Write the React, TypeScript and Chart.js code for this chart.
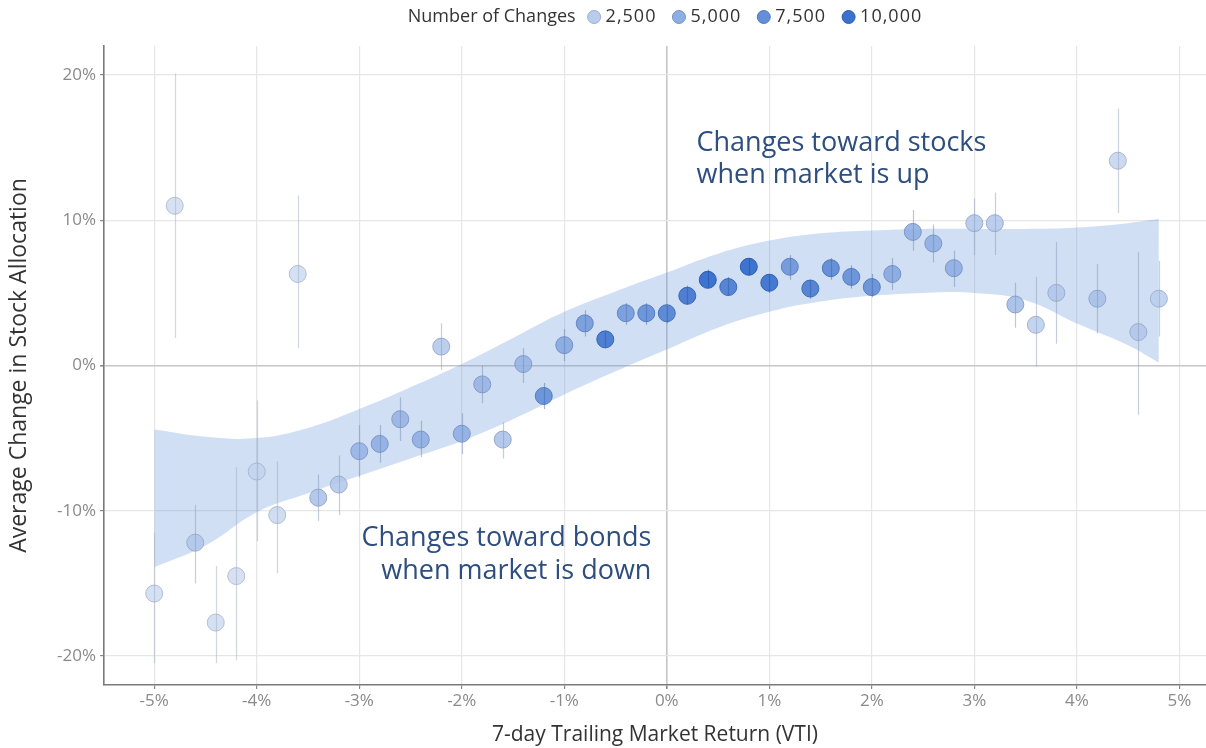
import React, { useEffect, useRef } from "react";
import { Chart, registerables } from "chart.js";

Chart.register(...registerables);

// ---------- data ----------
const returns = [
  -5.0, -4.8, -4.6, -4.4, -4.2, -4.0, -3.8, -3.6, -3.4, -3.2, -3.0, -2.8, -2.6, -2.4, -2.2, -2.0,
  -1.8, -1.6, -1.4, -1.2, -1.0, -0.8, -0.6, -0.4, -0.2, 0.0, 0.2, 0.4, 0.6, 0.8, 1.0, 1.2, 1.4,
  1.6, 1.8, 2.0, 2.2, 2.4, 2.6, 2.8, 3.0, 3.2, 3.4, 3.6, 3.8, 4.2, 4.4, 4.6, 4.8,
];
const avgChange = [
  -15.7, 11.0, -12.2, -17.7, -14.5, -7.3, -10.3, 6.3, -9.1, -8.2, -5.9, -5.4, -3.7, -5.1, 1.3, -4.7,
  -1.3, -5.1, 0.1, -2.1, 1.4, 2.9, 1.8, 3.6, 3.6, 3.6, 4.8, 5.9, 5.4, 6.8, 5.7, 6.8, 5.3,
  6.7, 6.1, 5.4, 6.3, 9.2, 8.4, 6.7, 9.8, 9.8, 4.2, 2.8, 5.0, 4.6, 14.1, 2.3, 4.6,
];
const errLow = [
  -20.5, 1.9, -15.0, -20.5, -20.3, -12.1, -14.3, 1.2, -10.7, -10.3, -7.7, -6.7, -5.2, -6.3, -0.3, -6.1,
  -2.6, -6.4, -1.2, -3.0, 0.3, 2.0, 1.2, 2.8, 2.8, 2.9, 4.2, 5.4, 4.8, 6.2, 5.0, 5.9, 4.6,
  5.9, 5.3, 4.7, 5.2, 7.9, 7.1, 5.4, 7.6, 7.6, 2.6, -0.1, 1.5, 2.2, 10.5, -3.4, 2.0,
];
const errHigh = [
  -11.5, 20.1, -9.6, -13.8, -7.0, -2.4, -6.6, 11.7, -7.5, -6.2, -4.1, -4.1, -2.2, -3.8, 2.9, -3.3,
  0.0, -3.9, 1.2, -1.2, 2.5, 3.8, 2.3, 4.3, 4.3, 4.1, 5.5, 6.6, 6.1, 7.4, 6.3, 7.6, 5.9,
  7.4, 6.9, 6.3, 7.4, 10.7, 9.7, 7.9, 11.5, 11.9, 5.7, 6.1, 8.5, 7.0, 17.7, 7.8, 7.2,
];
const changeCounts = [
  1000, 800, 2500, 900, 800, 1500, 1200, 1000, 3000, 2500, 4000, 4500, 4000, 4500, 2500, 4500,
  4000, 3000, 4000, 7000, 5000, 6000, 9000, 6000, 7000, 8000, 9000, 10000, 8500, 10000, 9500, 6500, 8500,
  7500, 7000, 7000, 5000, 4500, 4500, 4500, 2500, 2500, 3500, 2000, 2500, 3000, 1500, 2500, 2000,
];

const bandX = [-5.0, -4.5, -4.0, -3.5, -3.0, -2.5, -2.0, -1.5, -1.0, -0.5, 0.0, 0.5, 1.0, 1.5, 2.0, 2.5, 3.0, 3.5, 4.0, 4.5, 4.8];
const bandUpper = [-4.4, -4.9, -5.0, -4.3, -3.0, -1.5, 0.1, 1.9, 3.7, 5.1, 6.4, 7.7, 8.6, 9.1, 9.3, 9.4, 9.4, 9.4, 9.5, 9.8, 10.1];
const bandLower = [-13.9, -12.4, -10.1, -8.8, -7.6, -6.4, -5.2, -3.7, -2.0, -0.4, 1.1, 2.6, 3.7, 4.4, 4.8, 5.0, 5.0, 4.5, 2.9, 1.4, 0.2];

const xTicks = [-5, -4, -3, -2, -1, 0, 1, 2, 3, 4, 5];
const yTicks = [-20, -10, 0, 10, 20];

const legendTitle = "Number of Changes";
const legendCounts = [2500, 5000, 7500, 10000];
const legendLabels = ["2,500", "5,000", "7,500", "10,000"];

const annotTexts = ["Changes toward stocks", "when market is up", "Changes toward bonds", "when market is down"];
const annotX = [0.29, 0.29, -0.15, -0.15];
const annotY = [15.3, 13.1, -11.9, -14.2];
const annotAlign = ["left", "left", "right", "right"];

const xTitle = "7-day Trailing Market Return (VTI)";
const yTitle = "Average Change in Stock Allocation";

// ---------- styling helpers ----------
const LOW_C = [222, 231, 246];
const HIGH_C = [37, 98, 201];
const FONT = '"Open Sans", "DejaVu Sans", sans-serif';

function rgbFor(n: number) {
  const t = Math.max(0, Math.min(1, n / 10000));
  return LOW_C.map((c, i) => Math.round(c + (HIGH_C[i] - c) * t));
}
function rgba(c: number[], a: number, k = 1) {
  return `rgba(${Math.round(c[0] * k)},${Math.round(c[1] * k)},${Math.round(c[2] * k)},${a})`;
}

const errorBarPlugin = {
  id: "errorBars",
  afterDatasetsDraw(chart: any) {
    const { ctx, chartArea, scales } = chart;
    const xs = scales.x;
    const ys = scales.y;
    ctx.save();
    ctx.beginPath();
    ctx.rect(chartArea.left, chartArea.top, chartArea.right - chartArea.left, chartArea.bottom - chartArea.top);
    ctx.clip();
    returns.forEach((r, i) => {
      const px = Math.round(xs.getPixelForValue(r)) + 0.5;
      const c = rgbFor(changeCounts[i]);
      ctx.strokeStyle = rgba(c, 0.5, 0.8);
      ctx.lineWidth = 1.2;
      ctx.beginPath();
      ctx.moveTo(px, ys.getPixelForValue(errLow[i]));
      ctx.lineTo(px, ys.getPixelForValue(errHigh[i]));
      ctx.stroke();
    });
    ctx.restore();
  },
};

const textPlugin = {
  id: "annotTexts",
  afterDraw(chart: any) {
    const { ctx, chartArea, scales } = chart;
    ctx.save();
    // annotations
    ctx.font = `27px ${FONT}`;
    ctx.fillStyle = "#2d4e7e";
    ctx.textBaseline = "middle";
    annotTexts.forEach((t, i) => {
      ctx.textAlign = annotAlign[i] as CanvasTextAlign;
      ctx.fillText(t, scales.x.getPixelForValue(annotX[i]), scales.y.getPixelForValue(annotY[i]));
    });
    // legend
    ctx.font = `18px ${FONT}`;
    ctx.textAlign = "left";
    const r = 6.5;
    const spacing = "1px";
    const titleW = ctx.measureText(legendTitle).width;
    (ctx as any).letterSpacing = spacing;
    const widths = legendLabels.map((l) => ctx.measureText(l).width);
    (ctx as any).letterSpacing = "0px";
    const gapTitle = 12;
    const gapCircle = 5;
    const gapItem = 16;
    const total =
      titleW + gapTitle + widths.reduce((s, w) => s + 2 * r + gapCircle + w, 0) + gapItem * (widths.length - 1);
    let x = (chartArea.left + chartArea.right) / 2 + 10 - total / 2;
    const y = 17;
    ctx.fillStyle = "#333333";
    ctx.fillText(legendTitle, x, y);
    x += titleW + gapTitle;
    legendCounts.forEach((n, i) => {
      const c = rgbFor(n);
      ctx.beginPath();
      ctx.arc(x + r, y, r, 0, Math.PI * 2);
      ctx.fillStyle = rgba(c, 0.9);
      ctx.fill();
      ctx.strokeStyle = rgba(c, 0.9, 0.85);
      ctx.lineWidth = 1;
      ctx.stroke();
      x += 2 * r + gapCircle;
      ctx.fillStyle = "#333333";
      (ctx as any).letterSpacing = spacing;
      ctx.fillText(legendLabels[i], x, y);
      (ctx as any).letterSpacing = "0px";
      x += widths[i] + gapItem;
    });
    ctx.restore();
  },
};

export default function App() {
  const ref = useRef<HTMLCanvasElement>(null);
  useEffect(() => {
    document.body.style.margin = "0";
    const pointData = returns.map((r, i) => ({ x: r, y: avgChange[i] }));
    const upperData = bandX.map((x, i) => ({ x, y: bandUpper[i] }));
    const lowerData = bandX.map((x, i) => ({ x, y: bandLower[i] }));
    const fills = changeCounts.map((n) => rgba(rgbFor(n), 0.85));
    const borders = changeCounts.map((n) => rgba(rgbFor(n), 0.9, 0.85));

    const gridColor = (c: any) => (c.tick && c.tick.value === 0 ? "#c6c6c6" : "#e6e6e6");
    const gridWidth = (c: any) => (c.tick && c.tick.value === 0 ? 1.6 : 1.2);

    const chart = new Chart(ref.current as HTMLCanvasElement, {
      type: "scatter",
      data: {
        datasets: [
          {
            label: "points",
            data: pointData,
            backgroundColor: fills,
            borderColor: borders,
            borderWidth: 1,
            pointRadius: 8.5,
            pointHoverRadius: 8.5,
          } as any,
          {
            label: "upper",
            type: "line",
            data: upperData,
            borderWidth: 0,
            pointRadius: 0,
            tension: 0.4,
            fill: false,
            borderColor: "rgba(0,0,0,0)",
          } as any,
          {
            label: "lower",
            type: "line",
            data: lowerData,
            borderWidth: 0,
            pointRadius: 0,
            tension: 0.4,
            fill: "-1",
            borderColor: "rgba(0,0,0,0)",
            backgroundColor: "rgba(100,150,215,0.3)",
          } as any,
        ],
      },
      options: {
        animation: false,
        responsive: true,
        maintainAspectRatio: false,
        layout: { autoPadding: false, padding: { top: 46, right: 0, bottom: 0, left: 0 } },
        plugins: { legend: { display: false }, tooltip: { enabled: false } },
        scales: {
          x: {
            type: "linear",
            min: -5.49,
            max: 5.26,
            afterBuildTicks: (s: any) => {
              s.ticks = xTicks.map((v) => ({ value: v }));
            },
            afterFit: (s: any) => {
              s.height = 63;
              s.paddingLeft = 0;
              s.paddingRight = 0;
            },
            ticks: {
              callback: (v: any) => `${v}%`,
              color: "#8a8a8a",
              font: { family: FONT, size: 17 },
              padding: 2,
              maxRotation: 0,
              autoSkip: false,
            },
            grid: { color: gridColor, lineWidth: gridWidth, tickLength: 4, tickColor: "#8a8a8a" },
            border: { display: true, color: "#7a7a7a", width: 1.6 },
            title: {
              display: true,
              text: xTitle,
              color: "#333333",
              font: { family: FONT, size: 21 },
              padding: { top: 0, bottom: 0 },
            },
          },
          y: {
            type: "linear",
            min: -22,
            max: 22,
            afterBuildTicks: (s: any) => {
              s.ticks = yTicks.map((v) => ({ value: v }));
            },
            afterFit: (s: any) => {
              s.width = 104;
              s.paddingTop = 0;
              s.paddingBottom = 0;
            },
            ticks: {
              callback: (v: any) => `${v}%`,
              color: "#8a8a8a",
              font: { family: FONT, size: 17 },
              padding: 4,
            },
            grid: { color: gridColor, lineWidth: gridWidth, tickLength: 4, tickColor: "#8a8a8a" },
            border: { display: true, color: "#7a7a7a", width: 1.6 },
            title: {
              display: true,
              text: yTitle,
              color: "#333333",
              font: { family: FONT, size: 23 },
              padding: { top: 6, bottom: 0 },
            },
          },
        },
      } as any,
      plugins: [errorBarPlugin, textPlugin],
    });
    return () => chart.destroy();
  }, []);
  return (
    <div style={{ position: "relative", width: 1206, height: 748 }}>
      <canvas ref={ref} />
    </div>
  );
}
